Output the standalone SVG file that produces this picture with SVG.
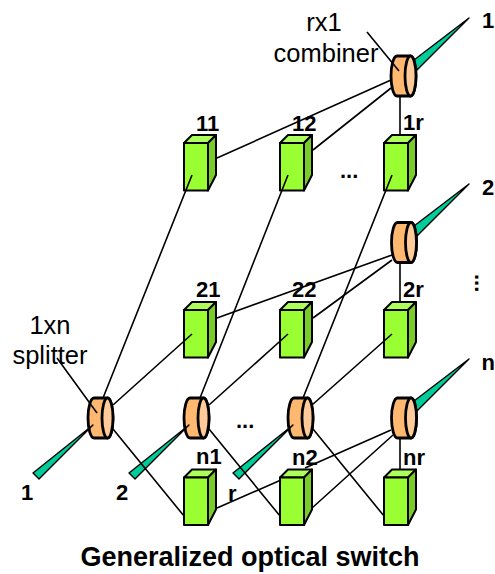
<svg xmlns="http://www.w3.org/2000/svg" width="495" height="574" viewBox="0 0 495 574">
<style>
text{font-family:"Liberation Sans",Arial,sans-serif;fill:#000}
.b{font-weight:bold;font-size:22px}
.r{font-size:25.5px;text-anchor:middle}
.l{fill:none;stroke:#000;stroke-width:1.6}
.s{stroke:#000;stroke-width:2;stroke-linejoin:round}
.f{fill:#99ff33}.t{fill:#adff5c}.d{fill:#7acc29}
.bd{fill:#ffb870;stroke:#000;stroke-width:2.8}
.el{fill:#ffcc99;stroke:#000;stroke-width:2.8}
.w{fill:#00cc99;stroke:#000;stroke-width:1.4;stroke-linejoin:round}
</style>
<defs>
<g id="box">
<path class="s t" d="M0 0l8-8h24l-8 8z"/>
<path class="s d" d="M24 0l8-8v40l-8 15.500z"/>
<path class="s f" d="M0 0h24v47.500h-24z"/>
</g>
<g id="lens">
<path class="bd" d="M6 0h13.500a5.500 20 0 0 1 0 40h-13.500a6 20 0 0 1 0-40z"/>
<ellipse class="el" cx="19.500" cy="20" rx="5.500" ry="20"/>
</g>
</defs>
<g id="n11"><use href="#box" x="184" y="143"/></g>
<g id="n12"><use href="#box" x="280" y="143"/></g>
<g id="n1r"><use href="#box" x="384" y="143"/></g>
<g id="n21"><use href="#box" x="184" y="310"/></g>
<g id="n22"><use href="#box" x="280" y="310"/></g>
<g id="n2r"><use href="#box" x="384" y="310"/></g>
<g id="nn1"><use href="#box" x="184" y="477.500"/></g>
<g id="nn2"><use href="#box" x="280" y="477.500"/></g>
<g id="nnr"><use href="#box" x="384" y="477.500"/></g>
<g id="c1"><path class="w" d="M414 60L469 18L417 70z"/><use href="#lens" x="391" y="56"/></g>
<g id="c2"><path class="w" d="M414 226L469 184L417 236z"/><use href="#lens" x="391.500" y="222.500"/></g>
<g id="c3"><path class="w" d="M414 401L469 359L417 411z"/><use href="#lens" x="391.500" y="398"/></g>
<g id="s1"><use href="#lens" x="88" y="398"/><path class="w" d="M33 473L93 425L39 479z"/></g>
<g id="s2"><use href="#lens" x="184" y="398"/><path class="w" d="M129 473L189 425L135 479z"/></g>
<g id="s3"><use href="#lens" x="288" y="398"/><path class="w" d="M233 473L293 425L239 479z"/></g>
<g id="connectors">
<path class="l" d="M391 80L217 158M391 88L313 150M400 96V135"/>
<path class="l" d="M392 255L217 318M392 260L313 318M400 262V302"/>
<path class="l" d="M391 430L305 468M281 480L217 508M393 435L312 508M400 438V470"/>
<path class="l" d="M57 358L97 413M103 398L192 175M113 405L192 334M113 429L184 516"/>
<path class="l" d="M200 398L288 175M209 405L288 334M209 429L280 516"/>
<path class="l" d="M303 398L392 175M312 405L392 334M313 429L384 516"/>
<path class="l" d="M367 32L399 71"/>
</g>
<g id="labels">
<text class="r" x="324" y="31">rx1</text>
<text class="r" x="326" y="62">combiner</text>
<text class="r" x="50" y="334">1xn</text>
<text class="r" x="50" y="364">splitter</text>
<text class="b" x="196" y="131">11</text>
<text class="b" x="292" y="131">12</text>
<text class="b" x="403" y="130">1r</text>
<text class="b" x="196" y="297">21</text>
<text class="b" x="292" y="297">22</text>
<text class="b" x="403" y="297">2r</text>
<text class="b" x="196" y="464">n1</text>
<text class="b" x="292" y="465">n2</text>
<text class="b" x="403" y="465">nr</text>
<text class="b" x="482" y="28">1</text>
<text class="b" x="482" y="195">2</text>
<text class="b" x="481.500" y="370">n</text>
<text class="b" x="21" y="500">1</text>
<text class="b" x="116" y="500">2</text>
<text class="b" x="228" y="501">r</text>
<text class="b" x="340" y="178">...</text>
<text class="b" x="236" y="428">...</text>
<text class="b" transform="translate(474.500 274) rotate(90)">...</text>
<text x="250" y="566" font-size="27" font-weight="bold" text-anchor="middle">Generalized optical switch</text>
</g>
</svg>
